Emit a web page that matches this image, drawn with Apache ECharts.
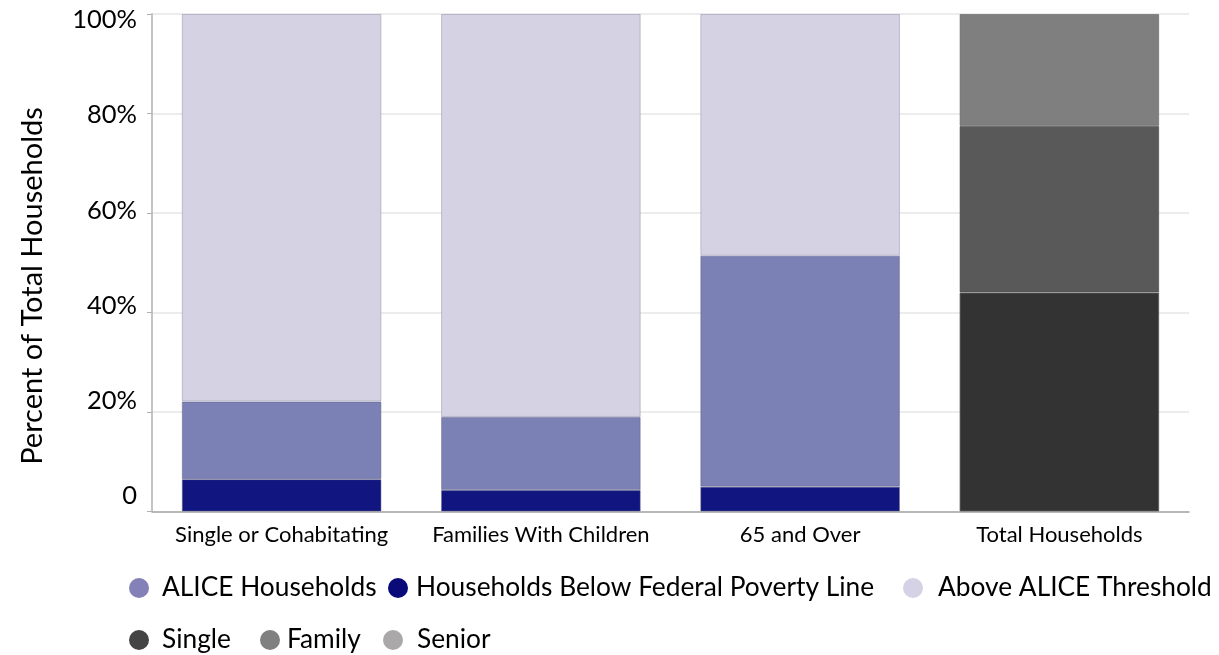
<!DOCTYPE html>
<html>
<head>
<meta charset="utf-8">
<script src="https://cdn.jsdelivr.net/npm/echarts@6/dist/echarts.min.js"></script>
<style>
  html, body { margin: 0; padding: 0; background: #fff; }
  #chart { width: 1219px; height: 655px; }
</style>
</head>
<body>
<div id="chart"></div>
<script>
// categories and values (percent of households)
const categories = ['Single or Cohabitating', 'Families With Children', '65 and Over', 'Total Households'];
const povertyLine = [6.5, 4.3, 5.0, '-'];
const aliceHouseholds = [15.6, 14.7, 46.4, '-'];
const aboveAlice = [77.9, 81.0, 48.6, '-'];
const single = ['-', '-', '-', 44.0];
const family = ['-', '-', '-', 33.5];
const senior = ['-', '-', '-', 22.5];
const yTicks = [0, 20, 40, 60, 80, 100];

const font = 'Lato, "Open Sans", sans-serif';
const chart = echarts.init(document.getElementById('chart'));

function bar(name, data, color, border) {
  return {
    name: name,
    type: 'bar',
    stack: 'total',
    barWidth: '77%',
    data: data,
    itemStyle: { color: color, borderColor: border, borderWidth: 1 }
  };
}

// one legend per item so each can sit where the original has it
// left = icon left edge, textLeft = where the label starts
const legendItems = [
  { name: 'ALICE Households', color: '#8480b8', left: 129, textLeft: 162, top: 575 },
  { name: 'Households Below Federal Poverty Line', color: '#0a0a78', left: 388, textLeft: 416, top: 575 },
  { name: 'Above ALICE Threshold', color: '#d5d2e6', left: 903, textLeft: 938, top: 575 },
  { name: 'Single', color: '#444444', left: 129, textLeft: 162, top: 627 },
  { name: 'Family', color: '#808080', left: 260, textLeft: 287, top: 627 },
  { name: 'Senior', color: '#aaa8a8', left: 383, textLeft: 417, top: 627 }
];

const option = {
  animation: false,
  textStyle: { fontFamily: font },
  grid: { left: 152, right: 30, top: 14, bottom: 143.5 },
  legend: legendItems.map(it => ({
    left: it.left,
    top: it.top,
    icon: 'circle',
    itemWidth: 20,
    itemHeight: 20,
    selectedMode: false,
    padding: 0,
    textStyle: {
      fontFamily: font, fontSize: 26.3, color: '#000',
      padding: [3, 0, 0, it.textLeft - it.left - 25]
    },
    data: [{ name: it.name, itemStyle: { color: it.color, borderWidth: 0 } }]
  })),
  xAxis: {
    type: 'category',
    data: categories,
    axisLine: { lineStyle: { color: '#a6a6a6', width: 1.5 } },
    axisTick: { show: false },
    axisLabel: { color: '#000', fontSize: 22, margin: 12, interval: 0, hideOverlap: false, fontFamily: font }
  },
  yAxis: [
    {
      type: 'value',
      min: 0,
      max: 100,
      interval: 20,
      axisLine: { show: true, lineStyle: { color: '#b0b0b0', width: 1.5 } },
      axisTick: { show: true, length: 5, lineStyle: { color: '#b0b0b0' } },
      axisLabel: { show: false },
      splitLine: { lineStyle: { color: '#e6e6e6', width: 1.5 } }
    },
    {
      // labels only: the original places its tick labels on a slightly compressed scale
      type: 'value',
      position: 'left',
      min: -3.26,
      max: 101.26,
      axisLine: { show: false },
      axisTick: { show: false },
      splitLine: { show: false },
      axisLabel: {
        customValues: yTicks,
        margin: 15,
        color: '#000',
        fontSize: 25.5,
        fontFamily: font,
        formatter: v => (v === 0 ? '0' : v + '%')
      }
    }
  ],
  graphic: [
    {
      type: 'text',
      x: 33,
      y: 286,
      rotation: Math.PI / 2,
      style: {
        text: 'Percent of Total Households',
        fontSize: 29,
        fontFamily: font,
        fill: '#000',
        textAlign: 'center',
        textVerticalAlign: 'middle'
      }
    }
  ],
  series: [
    bar('Households Below Federal Poverty Line', povertyLine, '#10157f', 'rgba(90,90,130,0.5)'),
    bar('ALICE Households', aliceHouseholds, '#7b80b5', 'rgba(90,90,130,0.45)'),
    bar('Above ALICE Threshold', aboveAlice, '#d5d2e3', 'rgba(120,120,150,0.4)'),
    bar('Single', single, '#333333', 'rgba(90,90,90,0.8)'),
    bar('Family', family, '#595959', 'rgba(70,70,70,0.6)'),
    bar('Senior', senior, '#7f7f7f', 'rgba(100,100,100,0.6)')
  ]
};

chart.setOption(option);
</script>
</body>
</html>
